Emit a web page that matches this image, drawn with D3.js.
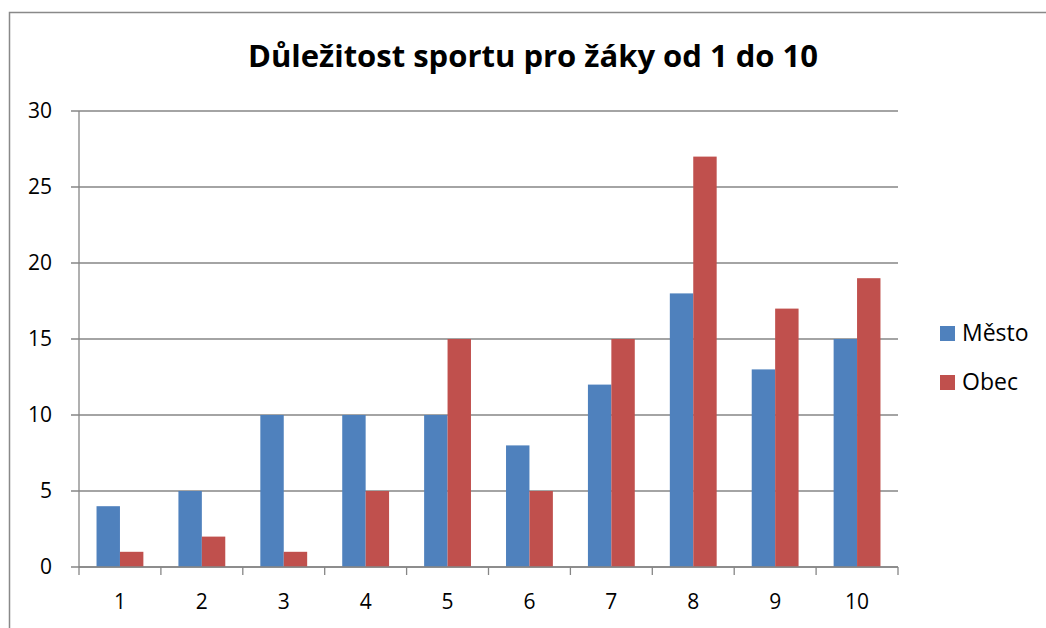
<!DOCTYPE html>
<html>
<head>
<meta charset="utf-8">
<script src="https://cdn.jsdelivr.net/npm/d3@7"></script>
<style>
  body { margin: 0; background: #fff; }
  text { font-family: "Open Sans", "Noto Sans", sans-serif; fill: #000; }
</style>
</head>
<body>
<svg id="chart" width="1046" height="628"></svg>
<script>
const categories = ["1", "2", "3", "4", "5", "6", "7", "8", "9", "10"];
const seriesNames = ["Město", "Obec"];
const mesto = [4, 5, 10, 10, 10, 8, 12, 18, 13, 15];
const obec = [1, 2, 1, 5, 15, 5, 15, 27, 17, 19];
const yTicks = [0, 5, 10, 15, 20, 25, 30];
const colors = ["#4F81BD", "#C0504D"];

const svg = d3.select("#chart");
const margin = { left: 79, right: 148, top: 111, bottom: 61 };
const width = 1046 - margin.left - margin.right;
const height = 628 - margin.top - margin.bottom;

// outer chart border
svg.append("rect")
  .attr("x", 9.5).attr("y", 12.5)
  .attr("width", 1060).attr("height", 640)
  .attr("fill", "none")
  .attr("stroke", "#898989")
  .attr("stroke-width", 1.5);

svg.append("text")
  .attr("x", 533).attr("y", 67)
  .attr("text-anchor", "middle")
  .style("font-size", "31px")
  .style("font-weight", "bold")
  .text("Důležitost sportu pro žáky od 1 do 10");

const g = svg.append("g").attr("transform", `translate(${margin.left},${margin.top})`);

const x0 = d3.scaleBand().domain(categories).range([0, width]).padding(0);
const gap = x0.bandwidth() * 0.214;
const x1 = d3.scaleBand().domain(seriesNames).range([gap, x0.bandwidth() - gap]).padding(0);
const y = d3.scaleLinear().domain([0, 30]).range([height, 0]);

// gridlines
g.selectAll(".grid")
  .data(yTicks)
  .enter()
  .append("line")
  .attr("x1", -8).attr("x2", width)
  .attr("y1", d => y(d)).attr("y2", d => y(d))
  .attr("stroke", "#868686")
  .attr("stroke-width", 1.3);

// y axis line
g.append("line")
  .attr("x1", 0).attr("x2", 0)
  .attr("y1", 0).attr("y2", height)
  .attr("stroke", "#868686").attr("stroke-width", 1.3);

g.selectAll(".ylab")
  .data(yTicks)
  .enter()
  .append("text")
  .attr("x", -27).attr("y", d => y(d) + 7)
  .attr("text-anchor", "end")
  .style("font-size", "21px")
  .text(d => d);

// bars
const data = categories.map((c, i) => ({ cat: c, vals: [mesto[i], obec[i]] }));
const groups = g.selectAll(".grp")
  .data(data)
  .enter()
  .append("g")
  .attr("transform", d => `translate(${x0(d.cat)},0)`);

groups.selectAll("rect")
  .data(d => d.vals.map((v, j) => ({ name: seriesNames[j], v, j })))
  .enter()
  .append("rect")
  .attr("x", d => x1(d.name))
  .attr("y", d => y(d.v))
  .attr("width", x1.bandwidth())
  .attr("height", d => height - y(d.v))
  .attr("fill", d => colors[d.j]);

// x axis
g.append("line")
  .attr("x1", 0).attr("x2", width)
  .attr("y1", height).attr("y2", height)
  .attr("stroke", "#868686").attr("stroke-width", 1.3);

g.selectAll(".xtick")
  .data(categories.concat(["end"]))
  .enter()
  .append("line")
  .attr("x1", (d, i) => i * x0.bandwidth()).attr("x2", (d, i) => i * x0.bandwidth())
  .attr("y1", height).attr("y2", height + 8)
  .attr("stroke", "#868686").attr("stroke-width", 1.3);

g.selectAll(".xlab")
  .data(categories)
  .enter()
  .append("text")
  .attr("x", d => x0(d) + x0.bandwidth() / 2)
  .attr("y", height + 42)
  .attr("text-anchor", "middle")
  .style("font-size", "21px")
  .text(d => d);

// legend
const legend = svg.append("g").attr("transform", "translate(940,326)");
seriesNames.forEach((s, i) => {
  legend.append("rect")
    .attr("x", 0).attr("y", i * 49)
    .attr("width", 15).attr("height", 15)
    .attr("fill", colors[i]);
  legend.append("text")
    .attr("x", 22).attr("y", i * 49 + 15)
    .style("font-size", "23px")
    .text(s);
});
</script>
</body>
</html>
